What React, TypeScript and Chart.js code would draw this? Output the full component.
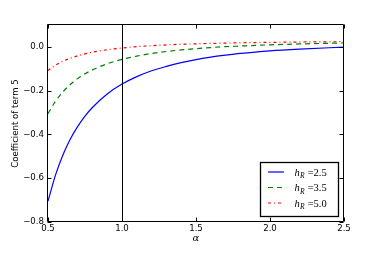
import React, { useEffect, useRef } from "react";
import { Chart, registerables } from "chart.js";

Chart.register(...registerables);

const ALPHA = [0.5, 0.55, 0.6, 0.65, 0.7, 0.75, 0.8, 0.9, 1.0, 1.1, 1.2, 1.3, 1.4, 1.5, 1.6, 1.7, 1.8, 1.9, 2.0, 2.2, 2.5];
const H25 = [-0.705, -0.587, -0.495, -0.422, -0.364, -0.316, -0.277, -0.215, -0.17, -0.136, -0.109, -0.089, -0.072, -0.058, -0.047, -0.038, -0.03, -0.024, -0.018, -0.01, -0.001];
const H35 = [-0.305, -0.249, -0.206, -0.172, -0.145, -0.123, -0.105, -0.077, -0.057, -0.042, -0.03, -0.021, -0.014, -0.008, -0.003, 0.001, 0.004, 0.007, 0.0095, 0.0135, 0.018];
const H50 = [-0.108, -0.084, -0.066, -0.052, -0.041, -0.032, -0.024, -0.013, -0.005, 0.001, 0.0055, 0.009, 0.012, 0.014, 0.016, 0.0174, 0.0187, 0.0198, 0.0207, 0.0222, 0.0238];
const SERIES_LABELS = ["2.5", "3.5", "5.0"];
const X_TICKS = [0.5, 1.0, 1.5, 2.0, 2.5];
const Y_TICKS = [-0.8, -0.6, -0.4, -0.2, 0.0];
const VLINE_AT = 1.0;
const X_TITLE = "α";
const Y_TITLE = "Coefficient of term 5";

const COLORS = ["#0000ff", "#008000", "#ff0000"];
const DASHES: number[][] = [[], [5, 4], [3, 3, 1, 3]];

const fmt = (v: number) => {
  const s = Math.abs(v).toFixed(1);
  return v < -1e-9 ? "\u2212" + s : s;
};

const decorPlugin = {
  id: "decor",
  afterDatasetsDraw(chart: any) {
    const { ctx, chartArea: a, scales } = chart;
    const xs = scales.x;
    const ys = scales.y;
    ctx.save();
    ctx.strokeStyle = "#000";
    ctx.lineWidth = 1;
    // vertical line
    const vx = Math.round(xs.getPixelForValue(VLINE_AT)) + 0.5;
    ctx.beginPath();
    ctx.moveTo(vx, a.top);
    ctx.lineTo(vx, a.bottom);
    ctx.stroke();
    // frame
    const L = Math.round(a.left) - 0.5;
    const R = Math.round(a.right) - 0.5;
    const T = Math.round(a.top) - 0.5;
    const B = Math.round(a.bottom) - 0.5;
    ctx.beginPath();
    ctx.rect(L, T, R - L, B - T);
    ctx.stroke();
    // inward ticks
    ctx.beginPath();
    for (const v of X_TICKS) {
      const px = Math.round(xs.getPixelForValue(v)) + 0.5;
      ctx.moveTo(px, B);
      ctx.lineTo(px, B - 4);
      ctx.moveTo(px, T);
      ctx.lineTo(px, T + 4);
    }
    for (const v of Y_TICKS) {
      const py = Math.round(ys.getPixelForValue(v)) + 0.5;
      ctx.moveTo(L, py);
      ctx.lineTo(L + 4, py);
      ctx.moveTo(R, py);
      ctx.lineTo(R - 4, py);
    }
    ctx.stroke();

    // titles
    ctx.fillStyle = "#000";
    ctx.font = "italic 10px 'DejaVu Serif'";
    ctx.textAlign = "center";
    ctx.textBaseline = "middle";
    ctx.fillText(X_TITLE, (a.left + a.right) / 2, 238);
    ctx.save();
    ctx.translate(16, (a.top + a.bottom) / 2);
    ctx.rotate(-Math.PI / 2);
    ctx.font = "8.6px 'DejaVu Sans'";
    ctx.fillText(Y_TITLE, 0, 0);
    ctx.restore();

    // legend
    const bw = 78, bh = 54;
    const bx = Math.round(a.right) - 5.5 - bw;
    const by = Math.round(a.bottom) - 5.5 - bh;
    ctx.fillStyle = "#fff";
    ctx.fillRect(bx, by, bw, bh);
    ctx.strokeStyle = "#000";
    ctx.lineWidth = 1.3;
    ctx.strokeRect(bx, by, bw, bh);
    SERIES_LABELS.forEach((lab, i) => {
      const cy = by + 9.5 + i * 15.5;
      ctx.save();
      ctx.strokeStyle = COLORS[i];
      ctx.lineWidth = 1.2;
      ctx.setLineDash(DASHES[i]);
      ctx.beginPath();
      ctx.moveTo(bx + 7.5, cy);
      ctx.lineTo(bx + 23.5, cy);
      ctx.stroke();
      ctx.restore();
      ctx.fillStyle = "#000";
      ctx.textAlign = "left";
      ctx.textBaseline = "alphabetic";
      let tx = bx + 34;
      const base = cy + 3.5;
      ctx.font = "italic 10.5px 'Liberation Serif'";
      ctx.fillText("h", tx, base);
      tx += ctx.measureText("h").width + 0.3;
      ctx.font = "italic 7.5px 'Liberation Serif'";
      ctx.fillText("R", tx, base + 2.5);
      tx += ctx.measureText("R").width + 3;
      ctx.font = "10.5px 'Liberation Serif'";
      ctx.fillText("=" + lab, tx, base);
    });
    ctx.restore();
  },
};

export default function App() {
  const ref = useRef<HTMLCanvasElement | null>(null);
  useEffect(() => {
    if (!ref.current) return;
    const series = [H25, H35, H50];
    const chart = new Chart(ref.current, {
      type: "line",
      data: {
        datasets: series.map((vals, i) => ({
          label: "h_R =" + SERIES_LABELS[i],
          data: ALPHA.map((x, j) => ({ x, y: vals[j] })),
          borderColor: COLORS[i],
          borderWidth: 1.2,
          borderDash: DASHES[i],
          pointRadius: 0,
          fill: false,
          cubicInterpolationMode: "monotone" as const,
        })),
      },
      options: {
        animation: false,
        responsive: false,
        devicePixelRatio: 1,
        layout: { padding: { top: 25, right: 38, left: 0, bottom: 0 } },
        plugins: { legend: { display: false }, tooltip: { enabled: false } },
        scales: {
          x: {
            type: "linear",
            min: 0.5,
            max: 2.5,
            afterBuildTicks: (s: any) => {
              s.ticks = X_TICKS.map((v) => ({ value: v }));
            },
            afterFit: (s: any) => {
              s.height = 32;
            },
            grid: { display: false, drawTicks: false },
            border: { display: false },
            ticks: {
              autoSkip: false,
              maxRotation: 0,
              padding: 2,
              color: "#000",
              font: { family: "DejaVu Sans", size: 8.6 },
              callback: (v: any) => fmt(Number(v)),
            },
          },
          y: {
            type: "linear",
            min: -0.8,
            max: 0.1,
            afterBuildTicks: (s: any) => {
              s.ticks = Y_TICKS.map((v) => ({ value: v }));
            },
            afterFit: (s: any) => {
              s.width = 48;
            },
            grid: { display: false, drawTicks: false },
            border: { display: false },
            ticks: {
              autoSkip: false,
              padding: 4,
              color: "#000",
              font: { family: "DejaVu Sans", size: 8.6 },
              callback: (v: any) => fmt(Number(v)),
            },
          },
        },
      },
      plugins: [decorPlugin],
    });
    return () => chart.destroy();
  }, []);
  return (
    <div style={{ position: "fixed", left: 0, top: 0, width: 382, height: 254, background: "#fff" }}>
      <canvas ref={ref} width={382} height={254} style={{ display: "block" }} />
    </div>
  );
}
